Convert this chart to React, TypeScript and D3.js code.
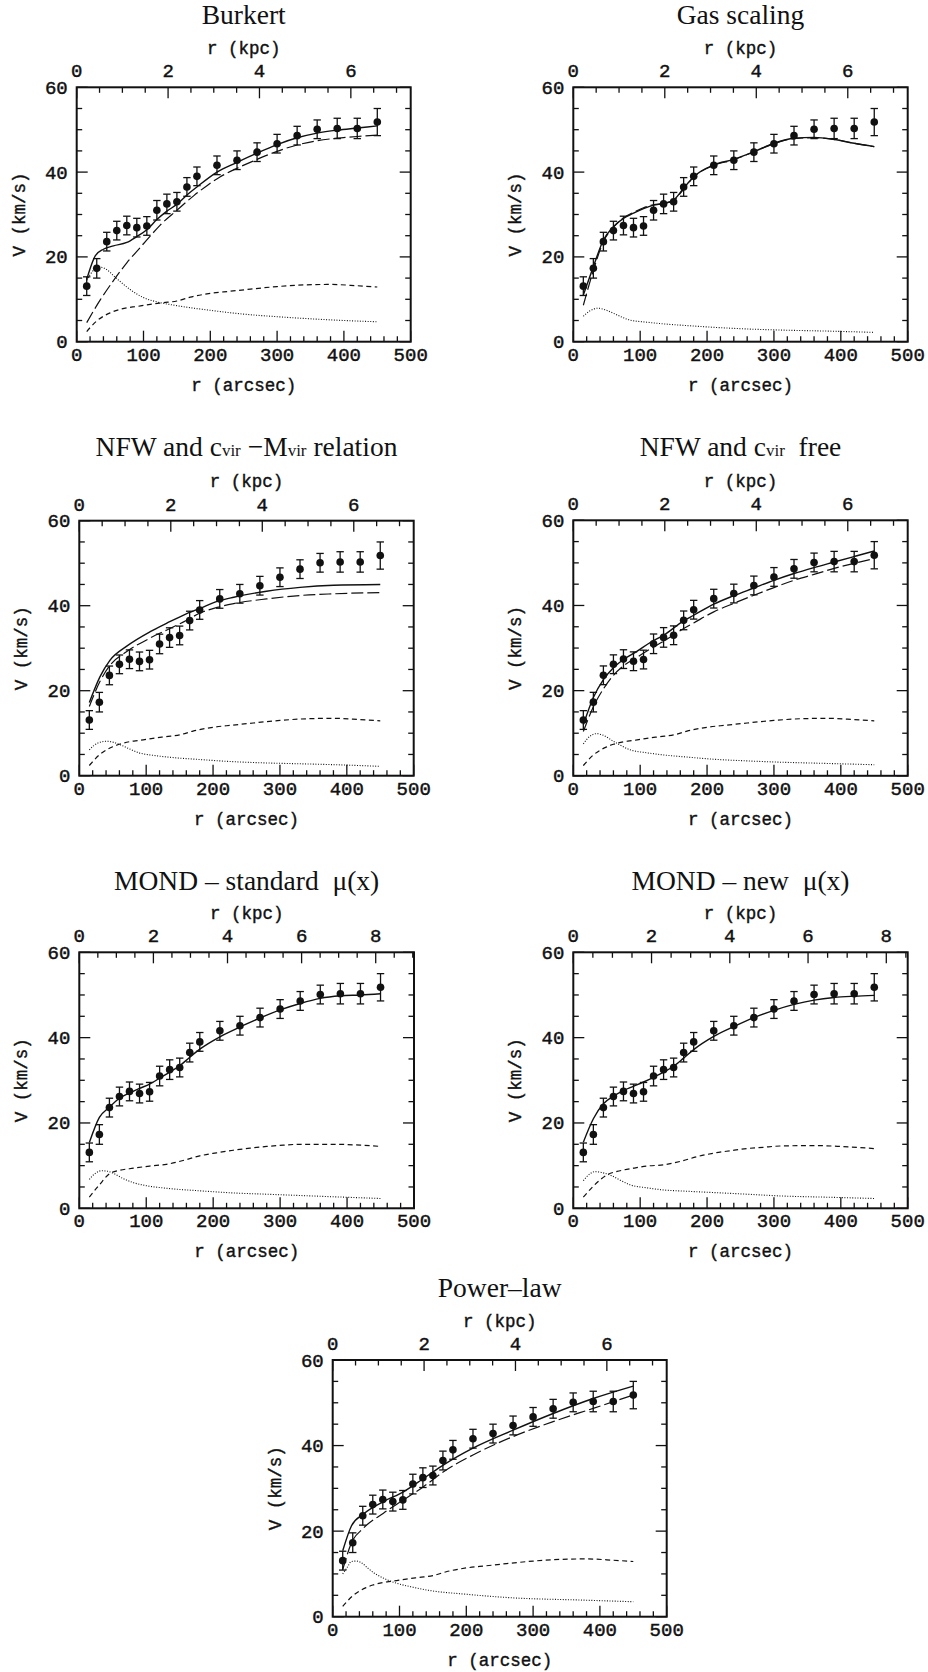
import React from "react";
import * as d3 from "d3";

type Pt = [number, number];

// ---------- observed rotation curve (same in every panel) ----------
const OBS_R = [15, 30, 45, 60, 75, 90, 105, 120, 135, 150, 165, 180, 210, 240, 270, 300, 330, 360, 390, 420, 450];
const OBS_V = [13.1, 17.3, 23.6, 26.2, 27.4, 26.9, 27.3, 31.0, 32.5, 33.0, 36.5, 39.0, 41.6, 42.8, 44.7, 46.7, 48.6, 50.1, 50.3, 50.3, 51.8];
const OBS_ERR = [2.2, 2.3, 2.2, 2.2, 2.2, 2.2, 2.2, 2.3, 2.3, 2.2, 2.2, 2.2, 2.2, 2.2, 2.2, 2.2, 2.2, 2.2, 2.4, 2.4, 3.2];

// ---------- tick labels ----------
const X_TICK_LABELS = [0, 100, 200, 300, 400, 500];
const Y_TICK_LABELS = [0, 20, 40, 60];
const KPC_LABELS_6 = [0, 2, 4, 6];
const KPC_LABELS_8 = [0, 2, 4, 6, 8];

// ---------- gas contribution ----------
const GAS_NEWTON: Pt[] = [[15, 2.4], [20, 3.3], [30, 4.9], [40, 6.0], [50, 6.8], [60, 7.4], [75, 8.0], [90, 8.3], [110, 8.8], [130, 9.2], [150, 9.6], [170, 10.5], [200, 11.4], [230, 11.9], [260, 12.4], [300, 13.0], [340, 13.4], [380, 13.5], [420, 13.2], [450, 12.9]];
const GAS_MOND_STD: Pt[] = [[15, 2.6], [30, 5.5], [46, 8.2], [60, 8.9], [81, 9.4], [105, 9.9], [130, 10.3], [155, 11.2], [180, 12.3], [205, 13.0], [230, 13.6], [255, 14.1], [280, 14.5], [305, 14.8], [330, 15.0], [380, 15.0], [420, 14.8], [450, 14.5]];
const GAS_MOND_NEW: Pt[] = [[15, 2.6], [30, 5.2], [50, 7.8], [70, 8.8], [90, 9.4], [110, 9.9], [135, 10.2], [160, 11.0], [185, 12.1], [209, 12.9], [235, 13.5], [259, 14.0], [284, 14.3], [309, 14.6], [359, 14.7], [400, 14.5], [450, 14.0]];

// ---------- stellar disk contributions ----------
const BURKERT_DISK: Pt[] = [[15, 14.5], [25, 16.8], [35, 17.6], [45, 17.0], [55, 15.6], [65, 14.2], [80, 12.3], [100, 10.4], [120, 9.4], [150, 8.5], [200, 7.4], [250, 6.5], [300, 5.9], [350, 5.4], [400, 5.0], [450, 4.7]];
const GASSCALE_DISK: Pt[] = [[15, 6.0], [25, 7.3], [37, 7.9], [50, 7.4], [60, 6.7], [85, 5.1], [110, 4.6], [135, 4.2], [170, 3.8], [209, 3.4], [260, 3.0], [309, 2.75], [380, 2.5], [450, 2.2]];
const NFWCM_DISK: Pt[] = [[15, 6.1], [28, 7.7], [41, 8.1], [50, 7.9], [61, 7.3], [75, 6.3], [91, 5.3], [110, 4.8], [131, 4.4], [181, 3.8], [230, 3.3], [280, 3.0], [330, 2.8], [380, 2.6], [450, 2.2]];
const NFWFREE_DISK: Pt[] = [[15, 7.5], [25, 9.3], [35, 9.9], [45, 9.5], [60, 8.1], [85, 6.1], [110, 5.4], [135, 4.9], [170, 4.4], [209, 3.9], [260, 3.5], [309, 3.2], [380, 2.9], [450, 2.6]];
const MONDSTD_DISK: Pt[] = [[15, 6.8], [25, 8.3], [33, 8.8], [42, 8.7], [51, 8.2], [65, 7.0], [81, 6.0], [100, 5.3], [130, 4.7], [180, 4.1], [230, 3.6], [280, 3.3], [330, 3.0], [380, 2.7], [450, 2.3]];
const MONDNEW_DISK: Pt[] = [[15, 6.5], [25, 8.1], [32, 8.6], [42, 8.4], [55, 7.8], [70, 6.6], [85, 5.5], [110, 4.8], [135, 4.3], [170, 4.0], [209, 3.7], [260, 3.3], [309, 2.9], [380, 2.6], [450, 2.3]];
const POWER_DISK: Pt[] = [[15, 10.0], [22, 11.6], [28, 12.9], [36, 13.0], [43, 12.6], [53, 11.3], [62, 10.2], [71, 9.4], [85, 8.4], [96, 7.8], [120, 6.9], [146, 6.1], [196, 5.3], [270, 4.4], [370, 3.9], [450, 3.5]];

// ---------- halo contributions ----------
const BURKERT_HALO: Pt[] = [[15, 4.5], [35, 9.8], [55, 14.4], [75, 18.6], [95, 22.2], [110, 24.9], [125, 27.5], [150, 31.0], [175, 34.4], [195, 36.8], [215, 38.9], [240, 40.9], [270, 43.0], [300, 44.9], [330, 46.4], [360, 47.4], [390, 48.0], [420, 48.4], [450, 48.7]];
const GASSCALE_HALO: Pt[] = [[15, 8.6], [30, 16.8], [45, 23.6], [60, 27.0], [75, 29.2], [90, 30.5], [105, 31.6], [120, 32.3], [135, 32.6], [150, 33.3], [165, 36.0], [180, 38.8], [210, 41.6], [240, 42.9], [270, 44.8], [300, 46.7], [330, 47.9], [360, 48.1], [390, 47.7], [420, 46.8], [450, 46.0]];
const NFWCM_HALO: Pt[] = [[15, 16.3], [31, 22.2], [46, 26.0], [71, 29.2], [106, 32.4], [131, 34.3], [156, 36.2], [181, 38.3], [206, 39.6], [231, 40.5], [280, 41.6], [330, 42.4], [380, 42.8], [450, 43.1]];
const NFWFREE_HALO: Pt[] = [[15, 10.4], [30, 16.2], [45, 20.4], [60, 23.6], [75, 25.8], [95, 27.8], [115, 29.8], [135, 31.6], [165, 34.6], [180, 35.9], [210, 38.5], [240, 40.5], [270, 42.4], [300, 44.2], [330, 45.9], [360, 47.3], [390, 48.7], [420, 49.9], [450, 51.0]];
const POWER_HALO: Pt[] = [[15, 11.0], [28, 17.2], [46, 20.7], [76, 24.2], [106, 27.3], [136, 30.4], [166, 33.9], [210, 37.8], [270, 42.1], [330, 45.6], [390, 48.7], [450, 51.8]];

// ---------- total model curves ----------
const BURKERT_TOTAL: Pt[] = [[15, 14.7], [28, 20.3], [40, 21.8], [55, 22.6], [75, 23.4], [90, 24.8], [105, 26.4], [120, 28.8], [135, 30.8], [150, 32.4], [165, 34.6], [180, 36.5], [210, 40.0], [240, 42.3], [270, 44.5], [300, 46.5], [330, 48.1], [360, 49.2], [390, 49.9], [420, 50.4], [450, 50.9]];
const GASSCALE_TOTAL: Pt[] = [[15, 11.0], [30, 17.7], [45, 24.0], [60, 27.1], [75, 29.1], [90, 30.3], [105, 31.4], [120, 32.2], [135, 32.6], [150, 33.4], [165, 36.2], [180, 38.9], [210, 41.7], [240, 43.0], [270, 44.8], [300, 46.8], [330, 48.0], [360, 48.2], [390, 47.7], [420, 46.8], [450, 46.0]];
const NFWCM_TOTAL: Pt[] = [[15, 17.2], [31, 23.3], [46, 27.2], [71, 30.5], [106, 33.9], [131, 35.9], [156, 37.8], [181, 39.4], [206, 41.0], [231, 42.0], [280, 43.4], [330, 44.3], [380, 44.8], [450, 45.0]];
const NFWFREE_TOTAL: Pt[] = [[15, 12.0], [30, 18.4], [45, 22.6], [60, 25.4], [75, 27.3], [95, 29.2], [115, 31.3], [135, 33.0], [165, 36.4], [180, 37.7], [210, 40.3], [240, 42.3], [270, 44.1], [300, 45.9], [330, 47.5], [360, 48.9], [390, 50.2], [420, 51.5], [450, 52.8]];
const MONDSTD_TOTAL: Pt[] = [[15, 15.4], [30, 21.3], [45, 23.7], [60, 25.8], [75, 27.0], [90, 28.1], [105, 29.1], [120, 30.5], [135, 31.9], [150, 33.4], [165, 35.4], [180, 37.3], [210, 40.2], [240, 42.5], [270, 44.6], [300, 46.5], [330, 48.0], [360, 49.2], [390, 49.8], [420, 50.0], [450, 50.3]];
const MONDNEW_TOTAL: Pt[] = [[15, 15.5], [30, 21.0], [45, 24.5], [60, 26.3], [75, 27.6], [90, 28.6], [105, 29.6], [120, 30.7], [135, 31.9], [150, 33.3], [165, 35.2], [180, 37.2], [210, 40.3], [240, 42.6], [270, 44.7], [300, 46.4], [330, 47.8], [360, 48.8], [390, 49.4], [420, 49.7], [450, 49.9]];
const POWER_TOTAL: Pt[] = [[15, 15.4], [28, 21.2], [46, 24.0], [76, 26.9], [106, 29.2], [136, 32.3], [166, 35.5], [210, 39.4], [270, 43.6], [330, 47.5], [390, 51.0], [450, 53.9]];

// ---------- distance conversion (arcsec per kpc) ----------
const ARCSEC_PER_KPC_NEWTON = 68.4;
const ARCSEC_PER_KPC_MOND_STD = 55.35;
const ARCSEC_PER_KPC_MOND_NEW = 58.5;

type Seg = { t: string; small?: boolean };

interface PanelCfg {
  title: Seg[];
  left: number;
  top: number;
  width: number;
  height: number;
  titleY: number;
  arcsecPerKpc: number;
  kpcLabels: number[];
  total: Pt[];
  halo: Pt[] | null;
  gas: Pt[] | null;
  disk: Pt[];
}

const PANELS: PanelCfg[] = [
  { title: [{ t: "Burkert" }], left: 76.7, top: 87.3, width: 334, height: 254.4, titleY: 24, arcsecPerKpc: ARCSEC_PER_KPC_NEWTON, kpcLabels: KPC_LABELS_6, total: BURKERT_TOTAL, halo: BURKERT_HALO, gas: GAS_NEWTON, disk: BURKERT_DISK },
  { title: [{ t: "Gas scaling" }], left: 573.3, top: 87.3, width: 334.4, height: 254.4, titleY: 24, arcsecPerKpc: ARCSEC_PER_KPC_NEWTON, kpcLabels: KPC_LABELS_6, total: GASSCALE_TOTAL, halo: GASSCALE_HALO, gas: null, disk: GASSCALE_DISK },
  { title: [{ t: "NFW and c" }, { t: "vir", small: true }, { t: " \u2212M" }, { t: "vir", small: true }, { t: " relation" }], left: 79.3, top: 520.7, width: 334.4, height: 255, titleY: 455.5, arcsecPerKpc: ARCSEC_PER_KPC_NEWTON, kpcLabels: KPC_LABELS_6, total: NFWCM_TOTAL, halo: NFWCM_HALO, gas: GAS_NEWTON, disk: NFWCM_DISK },
  { title: [{ t: "NFW and c" }, { t: "vir", small: true }, { t: "  free" }], left: 573.3, top: 520.3, width: 334.4, height: 255.5, titleY: 455.5, arcsecPerKpc: ARCSEC_PER_KPC_NEWTON, kpcLabels: KPC_LABELS_6, total: NFWFREE_TOTAL, halo: NFWFREE_HALO, gas: GAS_NEWTON, disk: NFWFREE_DISK },
  { title: [{ t: "MOND \u2013 standard  \u03bc(x)" }], left: 79.3, top: 952.3, width: 334.7, height: 256, titleY: 890, arcsecPerKpc: ARCSEC_PER_KPC_MOND_STD, kpcLabels: KPC_LABELS_8, total: MONDSTD_TOTAL, halo: null, gas: GAS_MOND_STD, disk: MONDSTD_DISK },
  { title: [{ t: "MOND \u2013 new  \u03bc(x)" }], left: 573.3, top: 952.3, width: 334.4, height: 256, titleY: 890, arcsecPerKpc: ARCSEC_PER_KPC_MOND_NEW, kpcLabels: KPC_LABELS_8, total: MONDNEW_TOTAL, halo: null, gas: GAS_MOND_NEW, disk: MONDNEW_DISK },
  { title: [{ t: "Power\u2013law" }], left: 332.7, top: 1360, width: 334, height: 256.7, titleY: 1296.7, arcsecPerKpc: ARCSEC_PER_KPC_NEWTON, kpcLabels: KPC_LABELS_6, total: POWER_TOTAL, halo: POWER_HALO, gas: GAS_NEWTON, disk: POWER_DISK },
];

const SERIF = "'Liberation Serif', 'Times New Roman', serif";
const MONO = "'Liberation Mono', 'Courier New', monospace";
const INK = "#111";

function Panel({ p }: { p: PanelCfg }) {
  const right = p.left + p.width;
  const bottom = p.top + p.height;
  const x = d3.scaleLinear().domain([0, 500]).range([p.left, right]);
  const y = d3.scaleLinear().domain([0, 60]).range([bottom, p.top]);
  const kpcMax = 500 / p.arcsecPerKpc;
  const xk = d3.scaleLinear().domain([0, kpcMax]).range([p.left, right]);
  const line = d3
    .line<Pt>()
    .x((d) => x(d[0]))
    .y((d) => y(d[1]))
    .curve(d3.curveMonotoneX);

  const xTicks = d3.range(0, 501, 20);
  const yTicks = d3.range(0, 61, 5);
  const kTicks = d3.range(0, kpcMax + 1e-6, 0.5);
  const MAJ = 11;
  const MIN = 5.5;
  const cx = (p.left + right) / 2;
  const cy = (p.top + bottom) / 2;

  return (
    <g>
      {/* title */}
      <text x={cx} y={p.titleY} textAnchor="middle" fontFamily={SERIF} fontSize={27.5} fill={INK} style={{ whiteSpace: "pre" }}>
        {p.title.map((s, i) => (
          <tspan key={i} fontSize={s.small ? 17 : 27.5}>
            {s.t}
          </tspan>
        ))}
      </text>

      {/* ticks */}
      <g stroke={INK} strokeWidth={1.3}>
        {xTicks.map((t) => {
          const len = t % 100 === 0 ? MAJ : MIN;
          return <line key={"b" + t} x1={x(t)} x2={x(t)} y1={bottom} y2={bottom - len} />;
        })}
        {kTicks.map((t) => {
          const len = Math.abs(t % 2) < 1e-6 ? MAJ : MIN;
          return <line key={"t" + t} x1={xk(t)} x2={xk(t)} y1={p.top} y2={p.top + len} />;
        })}
        {yTicks.map((t) => {
          const len = t % 20 === 0 ? MAJ : MIN;
          return (
            <g key={"y" + t}>
              <line x1={p.left} x2={p.left + len} y1={y(t)} y2={y(t)} />
              <line x1={right} x2={right - len} y1={y(t)} y2={y(t)} />
            </g>
          );
        })}
      </g>

      {/* frame */}
      <rect x={p.left} y={p.top} width={p.width} height={p.height} fill="none" stroke={INK} strokeWidth={2} />

      {/* tick labels */}
      <g fontFamily={MONO} fontSize={19} fill={INK} stroke={INK} strokeWidth={0.45}>
        {X_TICK_LABELS.map((t) => (
          <text key={"xl" + t} x={x(t)} y={bottom + 19} textAnchor="middle">
            {t}
          </text>
        ))}
        {p.kpcLabels.map((t) => (
          <text key={"kl" + t} x={xk(t)} y={p.top - 10} textAnchor="middle">
            {t}
          </text>
        ))}
        {Y_TICK_LABELS.map((t) => (
          <text key={"yl" + t} x={p.left - 9} y={y(t) + 6.5} textAnchor="end">
            {t}
          </text>
        ))}
      </g>

      {/* axis titles */}
      <g fontFamily={MONO} fontSize={17.5} fill={INK} stroke={INK} strokeWidth={0.4} style={{ whiteSpace: "pre" }}>
        <text x={cx} y={bottom + 49} textAnchor="middle">
          r (arcsec)
        </text>
        <text x={cx} y={p.top - 33.5} textAnchor="middle">
          r (kpc)
        </text>
        <text transform={`translate(${p.left - 52},${cy}) rotate(-90)`} textAnchor="middle">
          V (km/s)
        </text>
      </g>

      {/* model curves */}
      <g fill="none" stroke={INK}>
        <path d={line(p.disk) || ""} strokeWidth={1.1} strokeDasharray="1 1.6" />
        {p.gas && <path d={line(p.gas) || ""} strokeWidth={1.2} strokeDasharray="5 3.5" />}
        {p.halo && <path d={line(p.halo) || ""} strokeWidth={1.2} strokeDasharray="12 4" />}
        <path d={line(p.total) || ""} strokeWidth={1.4} />
      </g>

      {/* data with error bars */}
      <g stroke={INK} strokeWidth={1.3} fill={INK}>
        {OBS_R.map((r, i) => {
          const px = x(r);
          const y1 = y(OBS_V[i] - OBS_ERR[i]);
          const y2 = y(OBS_V[i] + OBS_ERR[i]);
          return (
            <g key={"o" + i}>
              <line x1={px} x2={px} y1={y1} y2={y2} />
              <line x1={px - 3.7} x2={px + 3.7} y1={y1} y2={y1} />
              <line x1={px - 3.7} x2={px + 3.7} y1={y2} y2={y2} />
              <circle cx={px} cy={y(OBS_V[i])} r={3.8} stroke="none" />
            </g>
          );
        })}
      </g>
    </g>
  );
}

export default function App() {
  return (
    <svg
      width={928}
      height={1672}
      viewBox="0 0 928 1672"
      style={{ position: "absolute", left: 0, top: 0, background: "#fff" }}
    >
      <rect x={0} y={0} width={928} height={1672} fill="#fff" />
      {PANELS.map((p, i) => (
        <Panel key={i} p={p} />
      ))}
    </svg>
  );
}
